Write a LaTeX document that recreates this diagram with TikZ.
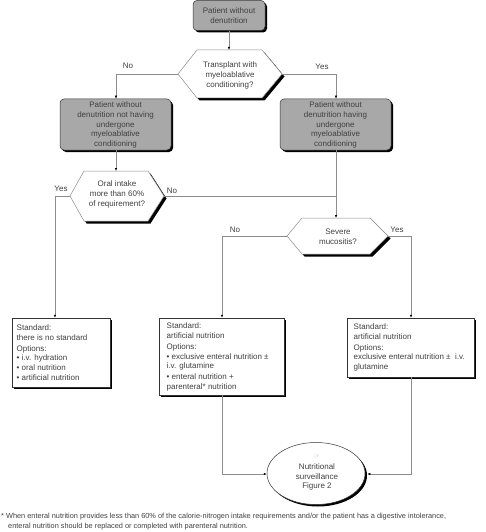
\documentclass[tikz,border=0pt]{standalone}
\usepackage{fontspec}
\setmainfont{Liberation Sans}
\newfontfamily\symfont{DejaVu Sans}
\usetikzlibrary{shapes.geometric,shadows,arrows.meta}
\definecolor{boxgray}{HTML}{A8A8A8}
\definecolor{txt}{HTML}{404040}
\definecolor{ln}{HTML}{8C8C8C}
\tikzset{
  fnt/.style={font=\fontsize{8}{9.6}\selectfont, text=txt},
  graybox/.style={draw=black!80, line width=0.5pt, fill=boxgray, rounded corners=4pt,
    drop shadow={shadow xshift=2pt, shadow yshift=-2pt, fill=black, opacity=1}},
  whitebox/.style={draw=black!80, line width=0.5pt, fill=white,
    drop shadow={shadow xshift=2pt, shadow yshift=-2pt, fill=black, opacity=1}},
  conn/.style={draw=ln, line width=0.5pt},
  arr/.style={conn, -{Latex[length=3pt,width=2.4pt,fill=black,color=black]}},
  hexline/.style={draw=ln, line width=0.5pt, fill=white},
  hexshadow/.style={fill=black},
  lbl/.style={fnt, inner sep=0pt},
  txtnode/.style={fnt, inner sep=0pt, align=left, anchor=west},
  ctxt/.style={fnt, inner sep=0pt, align=center},
}
\begin{document}
\begin{tikzpicture}[x=1pt,y=-1pt]
\useasboundingbox (0,0) rectangle (485,532);
\fill[white] (0,0) rectangle (485,532);

% ---------- top box
\node[graybox, minimum width=72pt, minimum height=30pt, inner sep=0pt] (top) at (229,15.5) {};
\node[ctxt] (topt) at (229,15.5) {Patient without\\denutrition};

% ---------- hexagon 1
\coordinate (h1L) at (178,74);
\coordinate (h1R) at (282,74);
\coordinate (h1T) at (229,50);
\fill[hexshadow] (180.5,76.5) -- (199.5,52.5) -- (264.5,52.5) -- (284.5,76.5) -- (264.5,100.5) -- (199.5,100.5) -- cycle;
\filldraw[hexline] (h1L) -- (197,50) -- (262,50) -- (h1R) -- (262,98) -- (197,98) -- cycle;
\node[ctxt] (h1) at (230,75.5) {Transplant with\\myeloablative\\conditioning?};

% ---------- gray boxes
\node[graybox, minimum width=111pt, minimum height=51pt, inner sep=0pt] (lg) at (115.5,124.5) {};
\node[ctxt] (lgt) at (115.5,125) {Patient without\\denutrition not having\\undergone\\myeloablative\\conditioning};
\node[graybox, minimum width=111pt, minimum height=51pt, inner sep=0pt] (rg) at (335.5,124.5) {};
\node[ctxt] (rgt) at (335.5,125) {Patient without\\denutrition having\\undergone\\myeloablative\\conditioning};

% ---------- hexagon 2
\coordinate (h2L) at (70,196);
\coordinate (h2R) at (164,196);
\coordinate (h2T) at (116,171);
\fill[hexshadow] (72.5,198.5) -- (86.5,173.5) -- (150.5,173.5) -- (166.5,198.5) -- (150.5,223.5) -- (86.5,223.5) -- cycle;
\filldraw[hexline] (h2L) -- (84,171) -- (148,171) -- (h2R) -- (148,221) -- (84,221) -- cycle;
\node[ctxt] (h2) at (117,194.5) {Oral intake\\more than 60\%\\of requirement?};

% ---------- hexagon 3
\coordinate (h3L) at (287,236);
\coordinate (h3R) at (388,236);
\coordinate (h3T) at (336,218);
\fill[hexshadow] (289.5,238.5) -- (304.5,220.5) -- (372.5,220.5) -- (390.5,238.5) -- (372.5,256.5) -- (304.5,256.5) -- cycle;
\filldraw[hexline] (h3L) -- (302,218) -- (370,218) -- (h3R) -- (370,254) -- (302,254) -- cycle;
\node[ctxt] (h3) at (338,237) {Severe\\mucositis?};

% ---------- white boxes
\node[whitebox, minimum width=98pt, minimum height=69pt, inner sep=0pt] (lw) at (61,352.5) {};
\node[txtnode] (lwt) at (16.5,352.5) {Standard:\\there is no standard\\[1.6pt]Options:\\• i.v. hydration\\• oral nutrition\\• artificial nutrition};
\node[whitebox, minimum width=125pt, minimum height=77pt, inner sep=0pt] (mw) at (221.5,356.5) {};
\node[txtnode] (mwt) at (166.5,357) {Standard:\\artificial nutrition\\[1.6pt]Options:\\• exclusive enteral nutrition ±\\i.v. glutamine\\[1.6pt]• enteral nutrition +\\parenteral* nutrition};
\node[whitebox, minimum width=127pt, minimum height=59pt, inner sep=0pt] (rw) at (410.5,347.5) {};
\node[txtnode] (rwt) at (353.5,347.5) {Standard:\\artificial nutrition\\[1.6pt]Options:\\exclusive enteral nutrition ±\ \ i.v.\\glutamine};

% ---------- ellipse
\node[ellipse, draw=black!80, line width=0.5pt, fill=white, minimum width=98pt, minimum height=62pt, inner sep=0pt,
  drop shadow={shadow xshift=2pt, shadow yshift=-2pt, fill=black, opacity=1}] (ell) at (316,473.5) {};
\node[ctxt] (ellt) at (317,473) {{\symfont\fontsize{6}{7}\selectfont\color{black!45}☞}\\[1pt]Nutritional\\surveillance\\Figure 2};

% ---------- connectors
\draw[arr] (top.south) -- (h1T);
\coordinate (c1) at (116,74);
\coordinate (c2) at (336,74);
\draw[arr] (h1L) -- (c1) -- (c1 |- lg.north);
\draw[arr] (h1R) -- (c2) -- (c2 |- rg.north);
\draw[arr] (lg.south -| h2T) -- (h2T);
\draw[arr] (rg.south -| h3T) -- (h3T);
\coordinate (j) at (336,196);
\draw[conn] (h2R) -- (j);
\coordinate (c3) at (55,196);
\draw[arr] (h2L) -- (c3) -- (c3 |- lw.north);
\coordinate (c4) at (222,236);
\coordinate (c5) at (411,236);
\draw[arr] (h3L) -- (c4) -- (c4 |- mw.north);
\draw[arr] (h3R) -- (c5) -- (c5 |- rw.north);
\coordinate (c6) at (222,474);
\coordinate (c7) at (411,474);
\draw[arr] (mw.south -| c6) -- (c6) -- (ell.west |- c6);
\draw[arr] (rw.south -| c7) -- (c7) -- ([xshift=2pt]ell.east |- c7);

% ---------- labels
\node[lbl] (lno1) at (128,66) {No};
\node[lbl] (lyes1) at (322,67) {Yes};
\node[lbl] (lyes2) at (61,189) {Yes};
\node[lbl] (lno2) at (172,191) {No};
\node[lbl] (lno3) at (235,230) {No};
\node[lbl] (lyes3) at (397,230) {Yes};

% ---------- footnote
\node[inner sep=0pt, anchor=north west, text=txt, font=\fontsize{7.35}{10}\selectfont, align=left] (fn) at (1,513.2)
  {* When enteral nutrition provides less than 60\% of the calorie-nitrogen intake requirements and/or the patient has a digestive intolerance,\\
   \hspace*{7pt}enteral nutrition should be replaced or completed with parenteral nutrition.};
\end{tikzpicture}
\end{document}
